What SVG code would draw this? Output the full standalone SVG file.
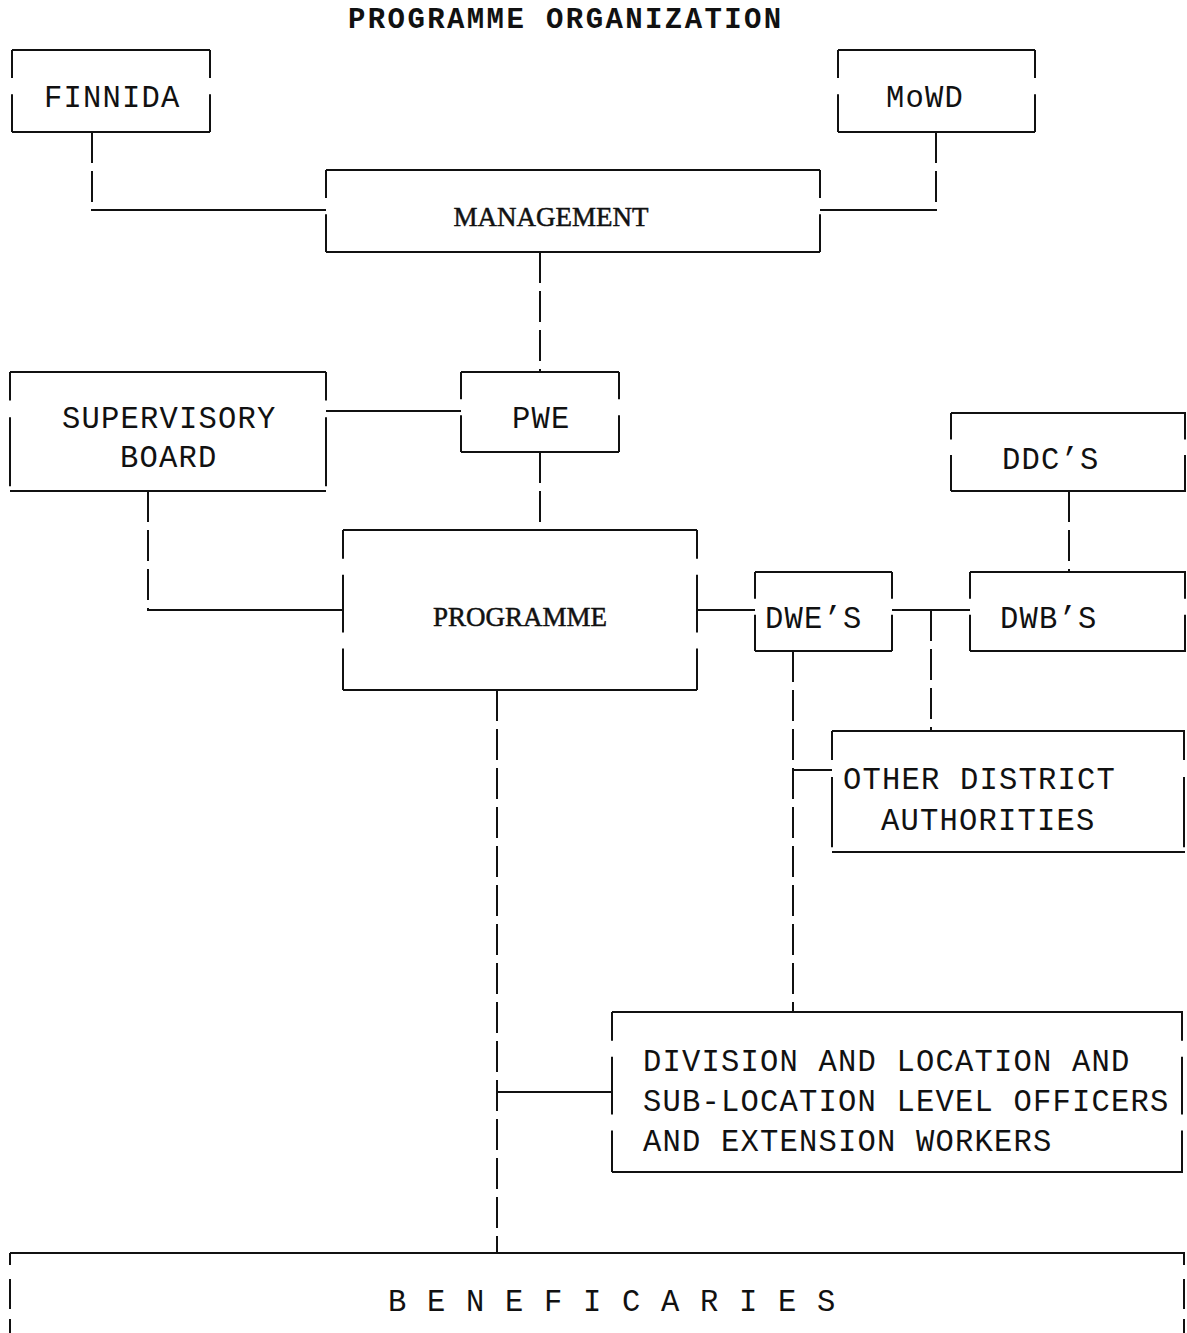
<svg xmlns="http://www.w3.org/2000/svg" width="1187" height="1333" viewBox="0 0 1187 1333">
<style>
.h{stroke:#111;stroke-width:2;fill:none}
.v{stroke:#111;stroke-width:2;fill:none}
.e1{stroke-dasharray:17 10 46 10 17 200}
.e2{stroke-dasharray:12 7 29 7 29 7 12 200}
.e3{stroke-dasharray:9 5 18 5 18 5 18 5 9 200}
.cd{stroke:#111;stroke-width:2;fill:none;stroke-dasharray:31 8}
.cs{stroke:#111;stroke-width:2;fill:none}
.t{font-family:"Liberation Mono","Courier New",monospace;font-size:30.5px;letter-spacing:1.2px;fill:#111}
.s{font-family:"Liberation Serif","Times New Roman",serif;font-size:27px;fill:#111;stroke:#111;stroke-width:0.5}
.b{font-family:"Liberation Mono","Courier New",monospace;font-size:29px;letter-spacing:2.4px;font-weight:bold;fill:#111}
</style>
<rect width="1187" height="1333" fill="#fff"/>
<text class="b" x="348" y="28">PROGRAMME ORGANIZATION</text>

<g id="connectors">
<line class="cd" x1="92" y1="132" x2="92" y2="210"/>
<line class="cs" x1="91" y1="210" x2="326" y2="210"/>
<line class="cd" x1="936" y1="132" x2="936" y2="210"/>
<line class="cs" x1="820" y1="210" x2="937" y2="210"/>
<line class="cd" x1="540" y1="252" x2="540" y2="372"/>
<line class="cs" x1="326" y1="411" x2="461" y2="411"/>
<line class="cd" x1="540" y1="452" x2="540" y2="530"/>
<line class="cd" x1="148" y1="491" x2="148" y2="610"/>
<line class="cs" x1="147" y1="610" x2="343" y2="610"/>
<line class="cs" x1="697" y1="610" x2="755" y2="610"/>
<line class="cs" x1="892" y1="610" x2="970" y2="610"/>
<line class="cd" x1="931" y1="610" x2="931" y2="731"/>
<line class="cd" x1="1069" y1="491" x2="1069" y2="572"/>
<line class="cd" x1="793" y1="651" x2="793" y2="1012"/>
<line class="cs" x1="793" y1="770" x2="832" y2="770"/>
<line class="cd" x1="497" y1="690" x2="497" y2="1253"/>
<line class="cs" x1="497" y1="1092" x2="612" y2="1092"/>
</g>

<g id="finnida">
<path class="h" d="M12,50H210M12,132H210"/>
<path class="v e1" pathLength="100" d="M12,50V132M210,50V132"/>
<text class="t" x="44" y="107">FINNIDA</text>
</g>
<g id="mowd">
<path class="h" d="M838,50H1035M838,132H1035"/>
<path class="v e1" pathLength="100" d="M838,50V132M1035,50V132"/>
<text class="t" x="886" y="107">MoWD</text>
</g>
<g id="management">
<path class="h" d="M326,170H820M326,252H820"/>
<path class="v e1" pathLength="100" d="M326,170V252M820,170V252"/>
<text class="s" x="551" y="226" text-anchor="middle">MANAGEMENT</text>
</g>
<g id="supervisory">
<path class="h" d="M10,372H326M10,491H326"/>
<path class="v e2" pathLength="100" d="M10,372V491M326,372V491"/>
<text class="t" x="62" y="428">SUPERVISORY</text>
<text class="t" x="120" y="467">BOARD</text>
</g>
<g id="pwe">
<path class="h" d="M461,372H619M461,452H619"/>
<path class="v e1" pathLength="100" d="M461,372V452M619,372V452"/>
<text class="t" x="512" y="428">PWE</text>
</g>
<g id="ddcs">
<path class="h" d="M951,413H1186M951,491H1186"/>
<path class="v e1" pathLength="100" d="M951,413V491M1185,413V491"/>
<text class="t" x="1002" y="469">DDC’S</text>
</g>
<g id="programme">
<path class="h" d="M343,530H697M343,690H697"/>
<path class="v e3" pathLength="100" d="M343,530V690M697,530V690"/>
<text class="s" x="520" y="626" text-anchor="middle">PROGRAMME</text>
</g>
<g id="dwes">
<path class="h" d="M755,572H892M755,651H892"/>
<path class="v e1" pathLength="100" d="M755,572V651M892,572V651"/>
<text class="t" x="765" y="628">DWE’S</text>
</g>
<g id="dwbs">
<path class="h" d="M970,572H1186M970,651H1186"/>
<path class="v e1" pathLength="100" d="M970,572V651M1185,572V651"/>
<text class="t" x="1000" y="628">DWB’S</text>
</g>
<g id="other">
<path class="h" d="M832,731H1185M832,852H1185"/>
<path class="v e2" pathLength="100" d="M832,731V852M1184,731V852"/>
<text class="t" x="843" y="789">OTHER DISTRICT</text>
<text class="t" x="881" y="830">AUTHORITIES</text>
</g>
<g id="division">
<path class="h" d="M612,1012H1183M612,1172H1183"/>
<path class="v e3" pathLength="100" d="M612,1012V1172M1182,1012V1172"/>
<text class="t" x="643" y="1071">DIVISION AND LOCATION AND</text>
<text class="t" x="643" y="1111">SUB-LOCATION LEVEL OFFICERS</text>
<text class="t" x="643" y="1151">AND EXTENSION WORKERS</text>
</g>
<g id="beneficaries">
<path class="h" d="M10,1253H1185"/>
<path class="v" stroke-dasharray="12 14 30 10 30 10" d="M10,1253V1333M1184,1253V1333"/>
<text class="t" x="388" y="1311">B E N E F I C A R I E S</text>
</g>
</svg>
